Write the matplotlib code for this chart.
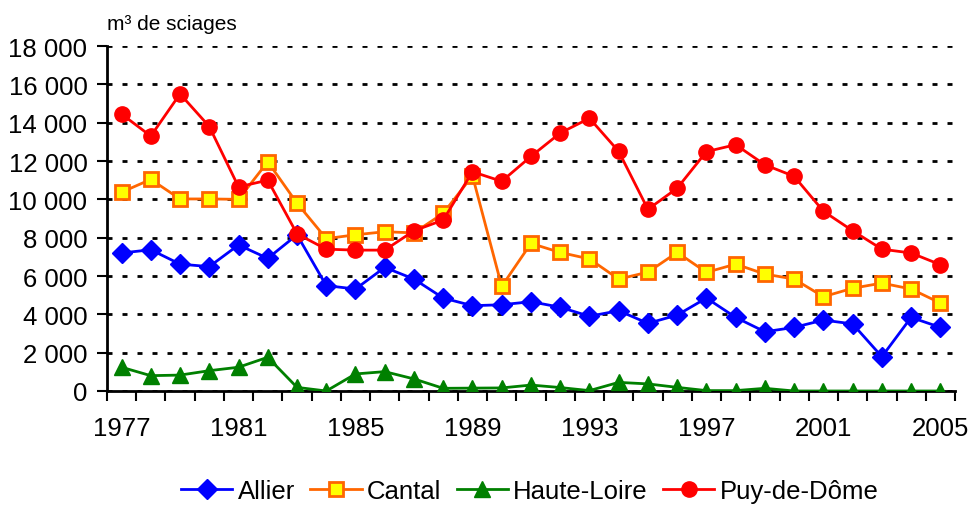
import numpy as np
import matplotlib
matplotlib.use("Agg")
import matplotlib.pyplot as plt
from matplotlib.ticker import FixedLocator, FuncFormatter

plt.rcParams['font.family'] = ['Liberation Sans', 'DejaVu Sans']

years = list(range(1977, 2006))

allier = [7200, 7370, 6620, 6490, 7620, 6920, 8150, 5500, 5320, 6450,
          5840, 4850, 4450, 4500, 4660, 4370, 3900, 4190, 3530, 3960,
          4850, 3840, 3090, 3320, 3700, 3500, 1790, 3840, 3320]

cantal = [10370, 11040, 10020, 10020, 10000, 11960, 9800, 7950, 8150, 8310,
          8250, 9270, 11230, 5460, 7700, 7230, 6890, 5840, 6200, 7230,
          6190, 6620, 6100, 5840, 4920, 5360, 5630, 5320, 4590]

haute_loire = [1240, 800, 830, 1060, 1240, 1760, 190, 0, 890, 1010,
               630, 140, 150, 160, 310, 180, 20, 450, 370, 190,
               20, 20, 140, 0, 0, 0, 0, 0, 0]

puy_de_dome = [14450, 13300, 15500, 13800, 10650, 11000, 8200, 7400, 7350, 7350,
               8360, 8920, 11440, 10940, 12240, 13460, 14230, 12500, 9480, 10580,
               12490, 12850, 11800, 11200, 9380, 8360, 7400, 7200, 6590]

fig = plt.figure(figsize=(9.72, 5.06), dpi=100)
ax = fig.add_axes([0.110, 0.2253, 0.8725, 0.6818])

x = np.arange(len(years))
lw = 2.0
ax.plot(x, allier, color='#0000FF', lw=lw, marker='D', ms=10,
        mfc='#0000FF', mec='#0000FF', label='Allier', zorder=3)
ax.plot(x, cantal, color='#FF6600', lw=lw, marker='s', ms=9.5,
        mfc='#FFFF00', mec='#FF6600', mew=2, label='Cantal', zorder=3)
ax.plot(x, haute_loire, color='#008000', lw=lw, marker='^', ms=11.5,
        mfc='#008000', mec='#008000', label='Haute-Loire', zorder=3)
ax.plot(x, puy_de_dome, color='#FF0000', lw=lw, marker='o', ms=11,
        mfc='#FF0000', mec='#FF0000', label='Puy-de-Dôme', zorder=3)

ax.set_xlim(-0.5, len(years) - 0.5)
ax.set_ylim(0, 18000)
ax.set_yticks(np.arange(0, 18001, 2000))
ax.yaxis.set_major_formatter(FuncFormatter(lambda v, p: f"{v:,.0f}".replace(",", " ")))

# category ticks between the years, labels every 4 years
ax.xaxis.set_major_locator(FixedLocator(np.arange(-0.5, len(years), 1)))
ax.xaxis.set_major_formatter(FuncFormatter(lambda v, p: ''))
lab_pos = [i for i, y in enumerate(years) if (y - 1977) % 4 == 0]
ax.xaxis.set_minor_locator(FixedLocator(lab_pos))
ax.set_xticklabels([str(years[i]) for i in lab_pos], minor=True)
ax.tick_params(axis='x', which='minor', length=0, pad=18, labelsize=18.5)
ax.tick_params(axis='x', which='major', length=7, width=1.5, direction='out')
ax.tick_params(axis='y', length=7, width=1.5, direction='out', pad=7, labelsize=18.5)

ax.grid(axis='y', color='black', linestyle=(0, (1.8, 3.6)), linewidth=2)
ax.set_axisbelow(True)
for s in ['top', 'right']:
    ax.spines[s].set_visible(False)
for s in ['left', 'bottom']:
    ax.spines[s].set_linewidth(2)

fig.text(0.110, 0.941, 'm³ de sciages', fontsize=15, ha='left', va='baseline')

fig.legend(loc='center', bbox_to_anchor=(0.545, 0.028), ncol=4, frameon=False,
           fontsize=18.5, handlelength=2.0, columnspacing=0.6, handletextpad=0.2,
           borderpad=0.1)

fig.savefig('out.png', dpi=100)
